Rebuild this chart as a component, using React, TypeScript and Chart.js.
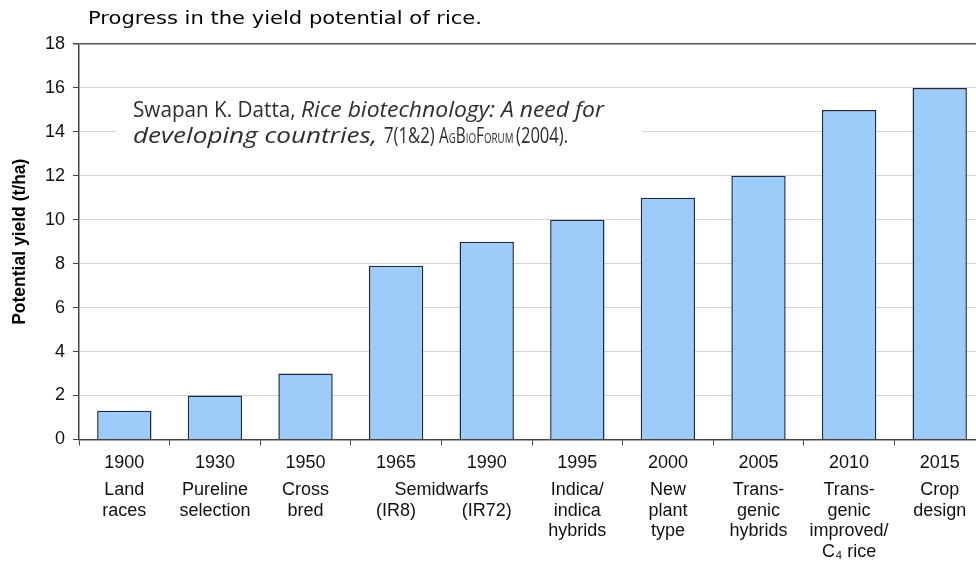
import React, { useEffect, useRef } from "react";
import { Chart, registerables } from "chart.js";

Chart.register(...registerables);

const years = ["1900", "1930", "1950", "1965", "1990", "1995", "2000", "2005", "2010", "2015"];
const names: string[][] = [
  ["Land", "races"],
  ["Pureline", "selection"],
  ["Cross", "bred"],
  ["", "(IR8)"],
  ["", "(IR72)"],
  ["Indica/", "indica", "hybrids"],
  ["New", "plant", "type"],
  ["Trans-", "genic", "hybrids"],
  ["Trans-", "genic", "improved/", "C\u2084 rice"],
  ["Crop", "design"],
];
const yields = [1.3, 2, 3, 7.9, 9, 10, 11, 12, 15, 16];
const yTicks = [0, 2, 4, 6, 8, 10, 12, 14, 16, 18];
const spanLabel = "Semidwarfs";
const chartTitle = "Progress in the yield potential of rice.";
const yTitle = "Potential yield (t/ha)";

const LABEL_FONT = 18;
const ARIAL = "'Liberation Sans', Arial, sans-serif";

type Run = [string, string];
type Group = { runs: Run[]; width: number };

// draw groups of text runs; each group is horizontally fitted to its width
function drawGroups(ctx: CanvasRenderingContext2D, groups: Group[], x: number, y: number) {
  let cx = x;
  for (const g of groups) {
    let w = 0;
    for (const [t, f] of g.runs) {
      ctx.font = f;
      w += ctx.measureText(t).width;
    }
    const s = g.width / w;
    ctx.save();
    ctx.translate(cx, y);
    ctx.scale(s, 1);
    let ox = 0;
    for (const [t, f] of g.runs) {
      ctx.font = f;
      ctx.fillText(t, ox, 0);
      ox += ctx.measureText(t).width;
    }
    ctx.restore();
    cx += g.width;
  }
}

const overlayPlugin = {
  id: "overlay",
  beforeDatasetsDraw(chart: any) {
    const { ctx, chartArea } = chart;
    const ys = chart.scales.y;
    ctx.save();
    const bx = chartArea.left + 38;
    const bTop = ys.getPixelForValue(15.7);
    const bBot = ys.getPixelForValue(12.9);
    ctx.fillStyle = "#ffffff";
    ctx.fillRect(bx, bTop, 525, bBot - bTop);
    ctx.fillStyle = "#2e2e2e";
    ctx.textBaseline = "alphabetic";
    ctx.textAlign = "left";
    const fam = "'Open Sans', 'Noto Sans', sans-serif";
    const n = `22px ${fam}`;
    const it = `italic 22px ${fam}`;
    const sc = `14px ${fam}`;
    const tx = chartArea.left + 54;
    drawGroups(
      ctx,
      [
        { runs: [["Swapan K. Datta, ", n]], width: 168 },
        { runs: [["Rice biotechnology: A need for", it]], width: 303 },
      ],
      tx,
      ys.getPixelForValue(14.9) + 5
    );
    drawGroups(
      ctx,
      [
        { runs: [["developing countries, ", it]], width: 251 },
        { runs: [["7(1&2) ", n]], width: 55 },
        {
          runs: [
            ["A", n],
            ["G", sc],
            ["B", n],
            ["IO", sc],
            ["F", n],
            ["ORUM ", sc],
          ],
          width: 77,
        },
        { runs: [["(2004).", n]], width: 52 },
      ],
      tx,
      ys.getPixelForValue(13.7) + 5
    );
    ctx.restore();
  },
  afterDraw(chart: any) {
    const { ctx, chartArea } = chart;
    const xs = chart.scales.x;
    ctx.save();
    ctx.fillStyle = "#000000";
    ctx.textBaseline = "middle";
    ctx.textAlign = "left";
    drawGroups(ctx, [{ runs: [[chartTitle, "18.5px 'DejaVu Sans', Verdana, sans-serif"]], width: 394 }], chartArea.left + 9, 19);
    // category names under the years
    ctx.font = `${LABEL_FONT}px ${ARIAL}`;
    ctx.fillStyle = "#111111";
    ctx.textAlign = "center";
    ctx.textBaseline = "middle";
    names.forEach((lines, i) => {
      const x = xs.getPixelForValue(i);
      lines.forEach((t, j) => {
        if (t) ctx.fillText(t, x, chartArea.bottom + 51 + j * 20.5);
      });
    });
    const mid = (xs.getPixelForValue(3) + xs.getPixelForValue(4)) / 2;
    ctx.fillText(spanLabel, mid, chartArea.bottom + 51);
    ctx.restore();
  },
};

export default function App() {
  const ref = useRef<HTMLCanvasElement | null>(null);
  useEffect(() => {
    if (!ref.current) return;
    const chart = new Chart(ref.current, {
      type: "bar",
      data: {
        labels: years,
        datasets: [
          {
            data: yields,
            backgroundColor: "#9dcbfa",
            borderColor: "#1c2b44",
            borderWidth: 1.5,
            barPercentage: 0.6,
            categoryPercentage: 1,
          },
        ],
      },
      options: {
        animation: false,
        responsive: true,
        maintainAspectRatio: false,
        layout: { padding: { top: 44, left: 10, right: 5, bottom: 83 } },
        plugins: { legend: { display: false }, tooltip: { enabled: false }, title: { display: false } },
        scales: {
          x: {
            offset: true,
            grid: {
              offset: true,
              drawOnChartArea: false,
              drawTicks: true,
              tickLength: 6,
              tickColor: "#444",
              color: "#444",
            },
            border: { color: "#444", width: 1.5 },
            ticks: {
              color: "#111",
              padding: 7,
              maxRotation: 0,
              autoSkip: false,
              font: { family: ARIAL, size: LABEL_FONT },
            },
          },
          y: {
            min: 0,
            max: 18,
            afterBuildTicks: (s: any) => {
              s.ticks = yTicks.map((v) => ({ value: v }));
            },
            grid: {
              color: (c: any) => (c.tick && c.tick.value === 18 ? "#555" : "#d4d4d4"),
              lineWidth: (c: any) => (c.tick && c.tick.value === 18 ? 1.5 : 1),
              tickColor: "#444",
              tickLength: 6,
            },
            border: { color: "#444", width: 1.5 },
            ticks: {
              color: "#111",
              padding: 8,
              font: { family: ARIAL, size: 18 },
            },
            title: {
              display: true,
              text: yTitle,
              color: "#000",
              font: { family: ARIAL, size: 17.5, weight: "bold" },
              padding: { top: 0, bottom: 6 },
            },
          },
        },
      },
      plugins: [overlayPlugin],
    });
    return () => chart.destroy();
  }, []);
  return (
    <div style={{ position: "fixed", left: 0, top: 0, width: 976, height: 564, overflow: "hidden", background: "#fff" }}>
      <div style={{ position: "absolute", left: 0, top: 0, width: 990, height: 564 }}>
        <canvas ref={ref} />
      </div>
    </div>
  );
}
